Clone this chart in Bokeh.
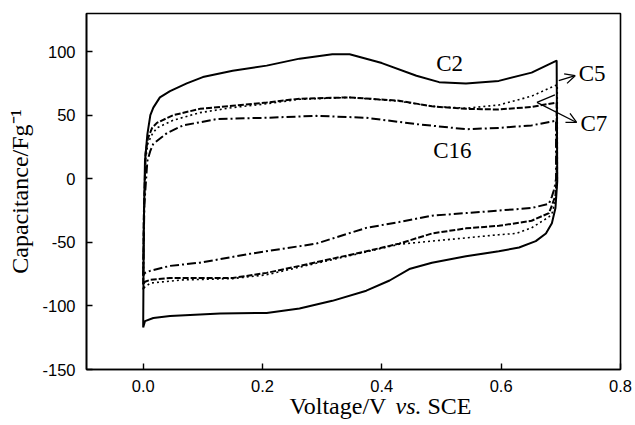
import math
from bokeh.plotting import figure
from bokeh.layouts import column
from bokeh.models import (Range1d, FixedTicker, PrintfTickFormatter, Label, Arrow,
                          OpenHead, ColumnDataSource)
from bokeh.core.properties import value
from bokeh.embed import file_html
from bokeh.resources import INLINE

# ---------------- data ----------------
c2_up_x = [0, 0.001, 0.003, 0.007, 0.012, 0.017, 0.028, 0.045, 0.073, 0.10, 0.15, 0.207, 0.262, 0.317, 0.346, 0.40, 0.458, 0.496, 0.541, 0.596, 0.651, 0.693]
c2_up_y = [-117, -40, 14, 35, 50, 56, 64, 69, 75, 80, 85, 89, 94.5, 98, 98, 91, 81, 76, 75, 77, 83.5, 93]
c2_lo_x = [0.694, 0.691, 0.685, 0.675, 0.658, 0.630, 0.596, 0.541, 0.484, 0.446, 0.413, 0.374, 0.317, 0.262, 0.207, 0.129, 0.045, 0.017, 0.003, 0]
c2_lo_y = [-2, -23, -35, -43, -49, -54, -57, -61, -66, -71, -80, -88, -96, -102, -105.5, -106, -108, -109.5, -112, -117]

c5_up_x = [0, 0.001, 0.004, 0.008, 0.015, 0.023, 0.05, 0.095, 0.15, 0.207, 0.262, 0.346, 0.429, 0.484, 0.541, 0.596, 0.651, 0.694]
c5_up_y = [-87, -30, 15, 28, 35, 40, 46, 52, 56, 59, 62.5, 64, 61, 57, 55.5, 58, 65, 74]
c5_lo_x = [0.694, 0.691, 0.685, 0.680, 0.651, 0.625, 0.596, 0.541, 0.484, 0.429, 0.374, 0.262, 0.207, 0.150, 0.067, 0.012, 0.003, 0]
c5_lo_y = [0, -17, -27.5, -30, -38.6, -43, -44, -46.5, -49, -51.5, -57.5, -69.5, -75.5, -78.5, -79.5, -82, -85, -87]

c7_up_x = [0, 0.001, 0.004, 0.008, 0.015, 0.023, 0.05, 0.095, 0.15, 0.207, 0.262, 0.346, 0.429, 0.484, 0.541, 0.596, 0.651, 0.693]
c7_up_y = [-83, -30, 20, 32, 40, 44, 50, 55, 57.5, 60, 63, 64, 61.4, 57, 55, 54.5, 56.5, 60]
c7_lo_x = [0.693, 0.691, 0.685, 0.680, 0.651, 0.596, 0.541, 0.484, 0.429, 0.374, 0.262, 0.207, 0.150, 0.067, 0.045, 0.012, 0.003, 0]
c7_lo_y = [0, -13, -21, -27, -33, -37, -39, -43, -51, -57, -68.5, -74, -78, -78, -78, -79.5, -81, -83]

c16_up_x = [0, 0.002, 0.007, 0.012, 0.017, 0.04, 0.067, 0.124, 0.207, 0.29, 0.374, 0.458, 0.541, 0.596, 0.651, 0.692]
c16_up_y = [-76, -20, 14, 22, 27.5, 36, 42, 47, 48, 49.5, 48, 43, 39, 40, 42, 45.7]
c16_lo_x = [0.692, 0.690, 0.688, 0.685, 0.680, 0.651, 0.596, 0.541, 0.484, 0.429, 0.374, 0.29, 0.262, 0.179, 0.095, 0.045, 0.012, 0.003, 0]
c16_lo_y = [0, -5.5, -9.4, -14, -19.7, -23, -25, -27, -29, -34, -38.6, -51, -53, -59, -66, -68.5, -72.4, -74, -76]

x_ticks = [0.0, 0.2, 0.4, 0.6, 0.8]
y_ticks = [-150, -100, -50, 0, 50, 100]

curve_names = ["C2", "C5", "C7", "C16"]
label_x = [0.491, 0.730, 0.733, 0.486]
label_y = [90.3, 82.7, 43.3, 22.0]

# annotation arrows: (x_start, y_start, x_end, y_end)
arrow_c5 = (0.6965, 77.2, 0.724, 81.1)
arrow_c7 = (0.660, 60.1, 0.7265, 44.3)
arm_c7 = (0.660, 60.1, 0.690, 66.0)

# x axis title pieces (text, font style)
x_title_parts = [("Voltage/V", "normal"), ("vs.", "italic"), ("SCE", "normal")]

# ---------------- main figure ----------------
p = figure(width=633, height=399, output_backend="svg", toolbar_location=None,
           x_range=Range1d(-0.095, 0.8), y_range=Range1d(-150, 130),
           min_border_left=86, min_border_right=13, min_border_top=13, min_border_bottom=30)
p.background_fill_color = "white"
p.border_fill_color = "white"
p.xgrid.visible = False
p.ygrid.visible = False
p.outline_line_color = "black"
p.outline_line_width = 1.6
p.outline_line_alpha = 1.0

for ax in (p.xaxis[0], p.yaxis[0]):
    ax.axis_line_color = "black"
    ax.axis_line_width = 1.6
    ax.major_tick_in = 6
    ax.major_tick_out = 0
    ax.major_tick_line_color = "black"
    ax.major_tick_line_width = 1.4
    ax.minor_tick_line_color = None
    ax.major_label_text_font = "Liberation Sans"
    ax.major_label_text_font_size = "16.5px"
    ax.major_label_text_color = "black"
    ax.major_label_standoff = 10

p.xaxis.ticker = FixedTicker(ticks=x_ticks)
p.xaxis.formatter = PrintfTickFormatter(format="%.1f")
p.yaxis.ticker = FixedTicker(ticks=y_ticks)
p.yaxis.major_label_overrides = {t: str(t) for t in y_ticks}
p.yaxis.major_label_standoff = 11

p.yaxis.axis_label = "Capacitance/Fg\u207b\u00b9"
p.yaxis.axis_label_text_font = "Liberation Serif"
p.yaxis.axis_label_text_font_size = "24px"
p.yaxis.axis_label_text_font_style = "normal"
p.yaxis.axis_label_text_color = "black"
p.yaxis.axis_label_standoff = 6
p.xaxis.axis_label = None


def loop(ux, uy, lx, ly):
    return list(ux) + list(lx), list(uy) + list(ly)


xs, ys = loop(c2_up_x, c2_up_y, c2_lo_x, c2_lo_y)
p.line(xs, ys, line_color="black", line_width=2)
xs, ys = loop(c5_up_x, c5_up_y, c5_lo_x, c5_lo_y)
p.line(xs, ys, line_color="black", line_width=1.6, line_dash="2 3")
xs, ys = loop(c7_up_x, c7_up_y, c7_lo_x, c7_lo_y)
p.line(xs, ys, line_color="black", line_width=2, line_dash="6 2")
xs, ys = loop(c16_up_x, c16_up_y, c16_lo_x, c16_lo_y)
p.line(xs, ys, line_color="black", line_width=2, line_dash="9 3 2 3")

src = ColumnDataSource(dict(x=label_x, y=label_y, t=curve_names))
p.text(x="x", y="y", text="t", source=src, text_font=value("Liberation Serif"),
       text_font_size="23px", text_color="black", text_align="left",
       text_baseline="alphabetic")

for (x0, y0, x1, y1) in (arrow_c5, arrow_c7):
    p.add_layout(Arrow(x_start=x0, y_start=y0, x_end=x1, y_end=y1,
                       line_color="black", line_width=1.3,
                       end=OpenHead(size=10, line_color="black", line_width=1.3)))
p.segment(x0=[arm_c7[0]], y0=[arm_c7[1]], x1=[arm_c7[2]], y1=[arm_c7[3]],
          line_color="black", line_width=1.3)

# ---------------- transparent strip below holding the x axis title ----------------
t = figure(width=633, height=32, output_backend="svg", toolbar_location=None,
           x_axis_type=None, y_axis_type=None, margin=(-8, 0, 0, 0),
           x_range=Range1d(0, 633), y_range=Range1d(0, 32), min_border=0)
t.xgrid.visible = False
t.ygrid.visible = False
t.outline_line_color = None
t.background_fill_alpha = 0
t.border_fill_alpha = 0
part_starts = [203, 309, 341]   # screen x of each piece, from the aligned frame's left edge
for (txt, style), sx in zip(x_title_parts, part_starts):
    t.add_layout(Label(x=sx, y=18, x_units="screen", y_units="screen",
                       text=txt, text_font="Liberation Serif", text_font_style=style,
                       text_font_size="24px", text_align="left",
                       text_baseline="alphabetic", text_color="black"))

layout = column(p, t, spacing=0)
open("out.html", "w").write(file_html(layout, INLINE))
